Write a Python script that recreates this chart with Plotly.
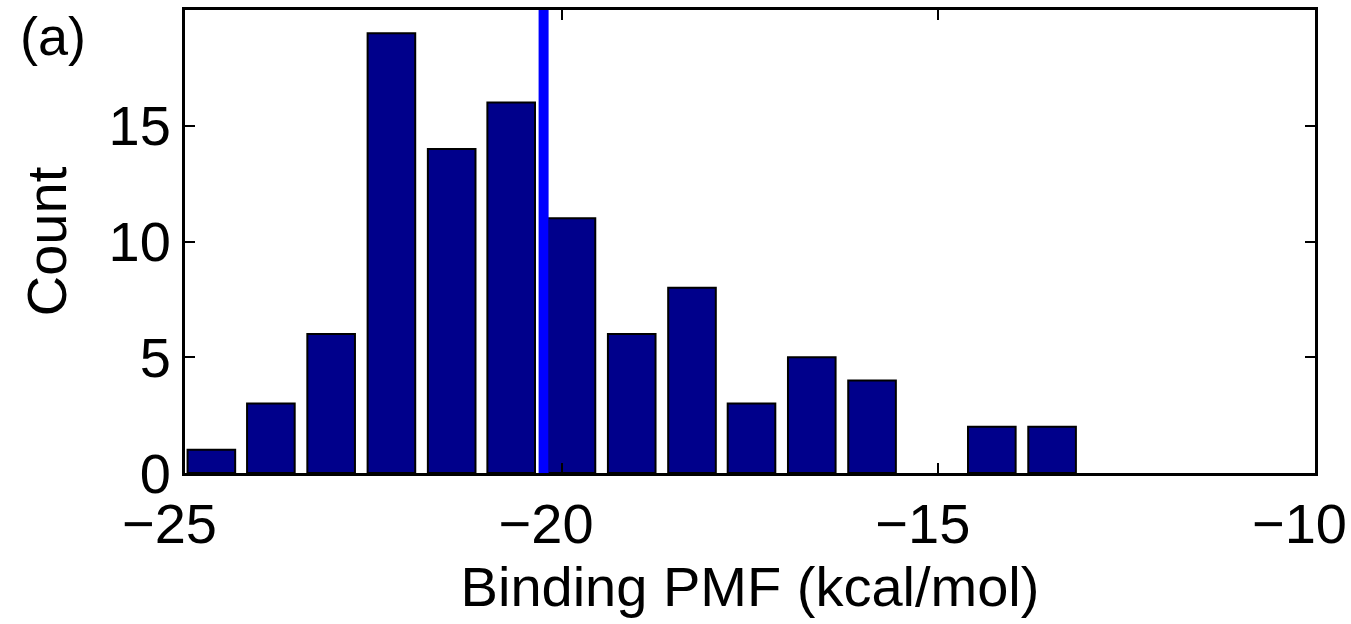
import plotly.graph_objects as go

# Histogram bin centres (kcal/mol) and counts
bin_centers = [-24.65, -23.86, -23.06, -22.26, -21.46, -20.67, -19.87, -19.07,
               -18.27, -17.48, -16.68, -15.88, -15.08, -14.29, -13.49]
counts = [1, 3, 6, 19, 14, 16, 11, 6, 8, 3, 5, 4, 0, 2, 2]

# Vertical reference line (mean PMF)
ref_x = -20.24
ref_y = [0, 20]

x_ticks = [-25, -20, -15, -10]
# MATLAB-style labels: digits centred on the tick, minus sign hanging left
x_tick_labels = ["\u221225\u00a0\u00a0", "\u221220\u00a0\u00a0",
                 "\u221215\u00a0\u00a0", "\u221210\u00a0\u00a0"]
y_ticks = [0, 5, 10, 15]
y_tick_labels = ["0", "5", "10", "15"]

FONT = "Liberation Sans, Arial, Helvetica, sans-serif"

fig = go.Figure()
fig.add_trace(go.Bar(
    x=bin_centers, y=counts,
    marker=dict(color="#00008B",
                line=dict(color="black", width=[2 if c > 0 else 0 for c in counts])),
    showlegend=False,
))
fig.add_trace(go.Scatter(
    x=[ref_x, ref_x], y=ref_y, mode="lines",
    line=dict(color="#0000FF", width=10), showlegend=False,
))

axis_common = dict(
    showline=True, linecolor="black", linewidth=3, mirror="ticks",
    ticks="inside", ticklen=10, tickwidth=2, tickcolor="black",
    showgrid=False, zeroline=False, automargin=False,
    tickfont=dict(family=FONT, size=56, color="black"),
    ticklabeloverflow="allow",
)

fig.update_layout(
    width=1351, height=624,
    margin=dict(l=185, r=36, t=10, b=151, autoexpand=False),
    paper_bgcolor="white", plot_bgcolor="white",
    bargap=0.2,
    font=dict(family=FONT, size=56, color="black"),
    xaxis=dict(range=[-25, -10], tickvals=x_ticks, ticktext=x_tick_labels,
               title=dict(text="Binding PMF (kcal/mol)", font=dict(family=FONT, size=56), standoff=6),
               **axis_common),
    yaxis=dict(range=[0, 20], tickvals=y_ticks, ticktext=y_tick_labels,
               title=dict(text="Count", font=dict(family=FONT, size=56), standoff=24),
               **axis_common),
    annotations=[dict(text="(a)", xref="paper", yref="paper",
                      x=-0.148, y=1.012, xanchor="left", yanchor="top",
                      showarrow=False, font=dict(family=FONT, size=54, color="black"))],
)

fig.write_html("out.html")
